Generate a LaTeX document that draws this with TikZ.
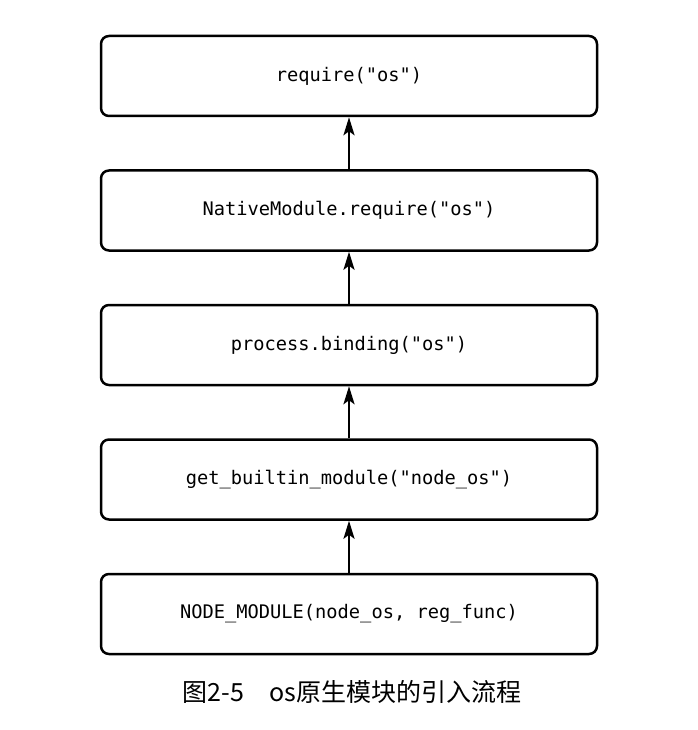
\documentclass[tikz,border=0pt]{standalone}
\usepackage{fontspec}
\setmonofont{DejaVu Sans Mono}
\newfontfamily\cjk{Noto Sans CJK SC}
\usetikzlibrary{positioning,arrows.meta}
\tikzset{>={Stealth[length=18pt,width=11pt,inset=4pt]}}

\begin{document}
\begin{tikzpicture}[x=1pt,y=1pt,
    callbox/.style={draw,line width=2.5pt,rounded corners=8pt,minimum width=496pt,minimum height=80pt,font=\fontsize{18.7}{22}\selectfont\ttfamily},
    callarrow/.style={->,line width=2.5pt}]
    \useasboundingbox (0,0) rectangle (697,-730);
    \node[callbox] (req) at (349,-76) {require("os")};
    \node[callbox,below=52pt of req] (native) {NativeModule.require("os")};
    \node[callbox,below=52pt of native] (binding) {process.binding("os")};
    \node[callbox,below=52pt of binding] (builtin) {get\_builtin\_module("node\_os")};
    \node[callbox,below=52pt of builtin] (nodemod) {NODE\_MODULE(node\_os, reg\_func)};
    \draw[callarrow] (native) -- (req);
    \draw[callarrow] (binding) -- (native);
    \draw[callarrow] (builtin) -- (binding);
    \draw[callarrow] (nodemod) -- (builtin);
    \node[inner sep=0pt,font=\fontsize{25}{30}\selectfont\cjk] (caption) at (352,-692) {图2-5\quad os原生模块的引入流程};
\end{tikzpicture}
\end{document}
